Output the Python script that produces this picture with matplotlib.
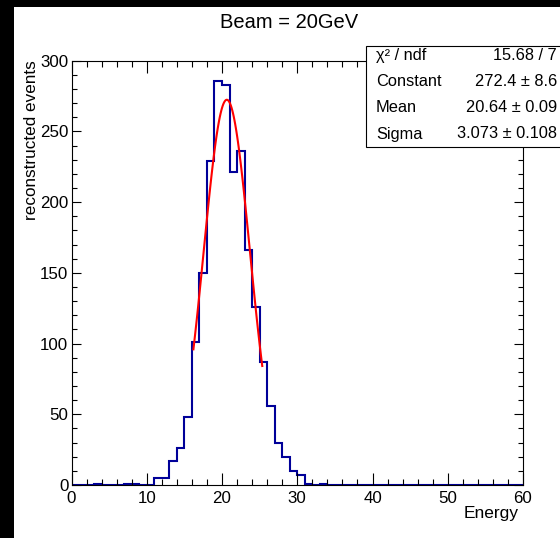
import numpy as np
import matplotlib
matplotlib.use("Agg")
import matplotlib.pyplot as plt
from matplotlib.patches import Rectangle
from matplotlib.ticker import MultipleLocator

plt.rcParams['font.family'] = ['Liberation Sans', 'DejaVu Sans']

# ---- data ----
bin_edges_start = 0
bin_edges_stop = 60
counts = [0, 0, 0, 1, 0, 0, 0, 1, 1, 0,
          0, 5, 5, 17, 26, 48, 101, 150, 229, 286,
          283, 221, 236, 166, 126, 87, 56, 30, 20, 10,
          7, 1, 0, 1, 0, 0, 0, 0, 0, 0,
          0, 0, 0, 0, 0, 0, 0, 0, 0, 0,
          0, 0, 0, 0, 0, 0, 0, 0, 0, 0]
fit_constant = 272.4
fit_mean = 20.64
fit_sigma = 3.073
fit_range = (16.2, 25.35)
stats_labels = ["χ² / ndf", "Constant", "Mean", "Sigma"]
stats_values = ["15.68 / 7", "272.4 ± 8.6", "20.64 ± 0.09", "3.073 ± 0.108"]
title = "Beam = 20GeV"
xlabel = "Energy"
ylabel = "reconstructed events"

W, H = 560, 538
fig = plt.figure(figsize=(W / 100, H / 100), dpi=100, facecolor='black')

def fx(px):
    return px / W

def fy(py):
    return 1 - py / H

# white canvas area
fig.patches.append(Rectangle((fx(14), 0), 1 - fx(14), fy(7), transform=fig.transFigure,
                             facecolor='white', edgecolor='none', zorder=-10))

left, right, top, bottom = 71.5, 523, 60.7, 485
ax = fig.add_axes([fx(left), fy(bottom), (right - left) / W, (bottom - top) / H])
ax.set_zorder(2)
ax.set_facecolor('white')

edges = np.linspace(bin_edges_start, bin_edges_stop, len(counts) + 1)
ax.stairs(counts, edges, color='#000099', linewidth=1.5, baseline=0)

xf = np.linspace(fit_range[0], fit_range[1], 100)
yf = fit_constant * np.exp(-0.5 * ((xf - fit_mean) / fit_sigma) ** 2)
ax.plot(xf, yf, color='red', linewidth=1.5)

ax.set_xlim(0, 60)
ax.set_ylim(0, 300)
ax.xaxis.set_major_locator(MultipleLocator(10))
ax.xaxis.set_minor_locator(MultipleLocator(2))
ax.yaxis.set_major_locator(MultipleLocator(50))
ax.yaxis.set_minor_locator(MultipleLocator(10))
ax.tick_params(axis='both', which='both', direction='in', top=True, right=True,
               labelsize=12.2, width=0.8)
ax.tick_params(axis='x', which='major', length=8.6, pad=4)
ax.tick_params(axis='x', which='minor', length=4.3)
ax.tick_params(axis='y', which='major', length=6.5, pad=2.3)
ax.tick_params(axis='y', which='minor', length=3.6)
for s in ax.spines.values():
    s.set_linewidth(0.8)

fig.text(fx(289), fy(22), title, ha='center', va='center', fontsize=14.5)
fig.text(fx(519), fy(518), xlabel, ha='right', va='baseline', fontsize=12.5)
fig.text(fx(32), fy(60), ylabel, ha='center', va='top', rotation=90, fontsize=12.3)

# stats box
box_l, box_t, box_b = 366, 46, 147
fig.patches.append(Rectangle((fx(box_l), fy(box_b)), 1.2, (box_b - box_t) / H,
                             transform=fig.transFigure, facecolor='white',
                             edgecolor='black', linewidth=0.8, zorder=5))
row_y = [55.7, 81.7, 107.5, 134]
for yy, lab, val in zip(row_y, stats_labels, stats_values):
    fig.text(fx(376), fy(yy), lab, ha='left', va='center', fontsize=11.8, zorder=6)
    fig.text(fx(557), fy(yy), val, ha='right', va='center', fontsize=11.8, zorder=6)

fig.savefig('out.png', dpi=100, facecolor='black')
